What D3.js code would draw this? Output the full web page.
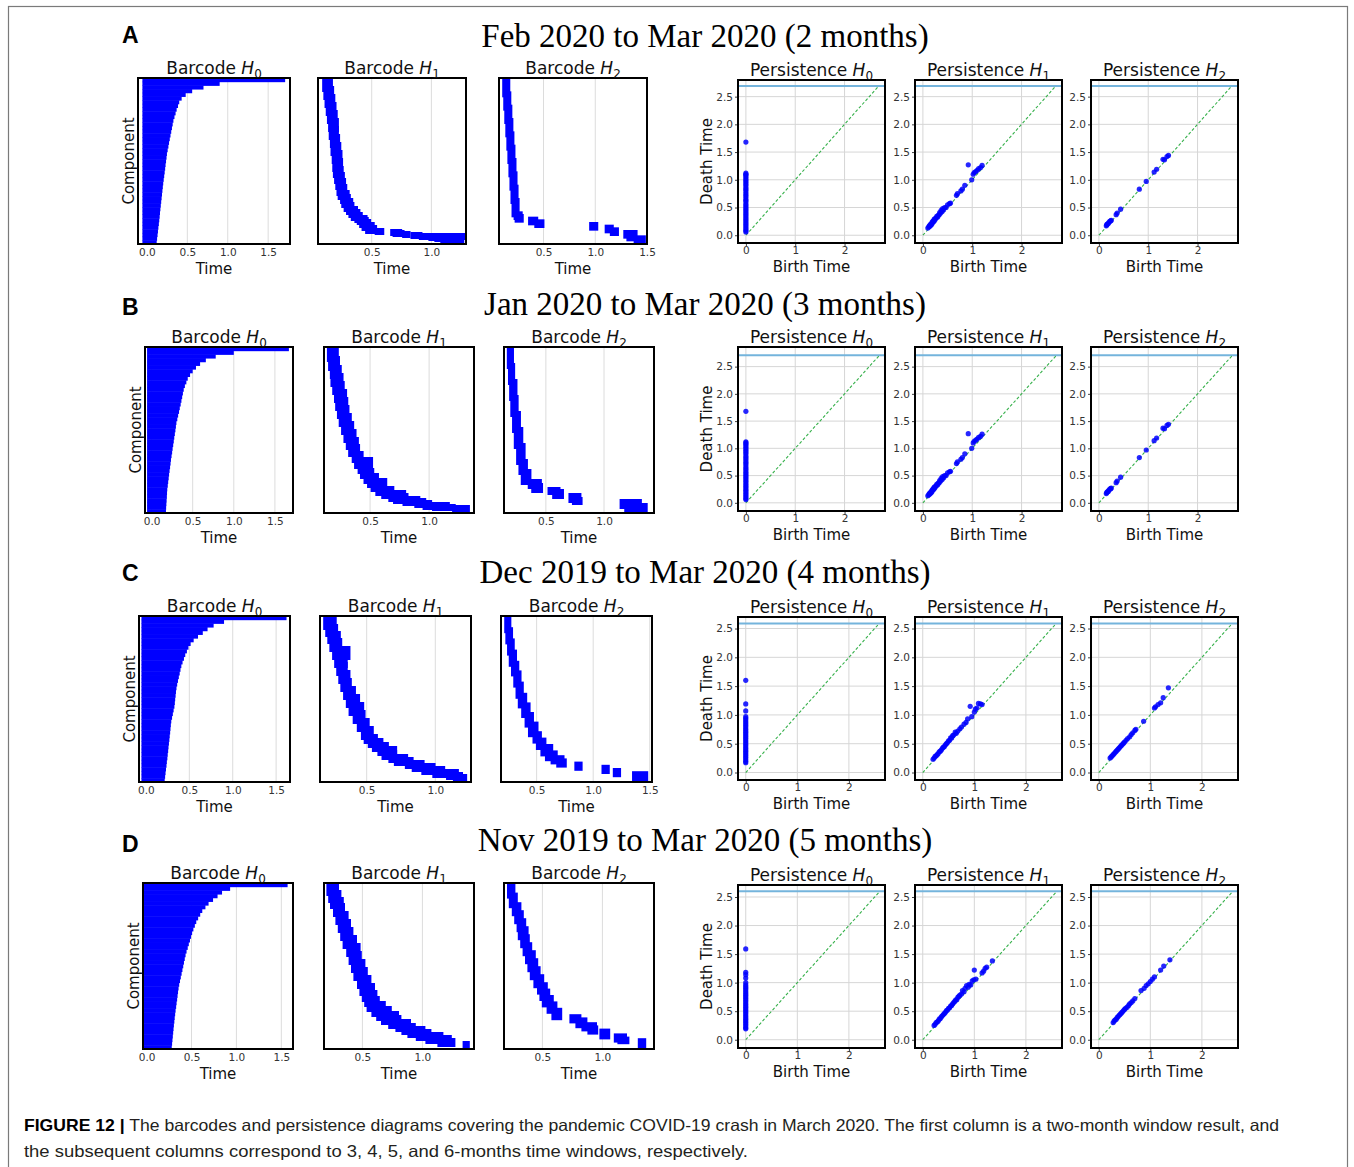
<!DOCTYPE html>
<html lang="en">
<head>
<meta charset="UTF-8">
<title>Figure 12</title>
<script src="https://d3js.org/d3.v7.min.js"></script>
<style>
  body { margin: 0; background: #fff; }
  svg text { font-family: "DejaVu Sans", sans-serif; }
</style>
</head>
<body>
<div id="fig"></div>
<script>
// ---------- text ----------
const rowLetters = ["A", "B", "C", "D"];
const rowTitles = [
  "Feb 2020 to Mar 2020 (2 months)",
  "Jan 2020 to Mar 2020 (3 months)",
  "Dec 2019 to Mar 2020 (4 months)",
  "Nov 2019 to Mar 2020 (5 months)"
];
const captionBold = "FIGURE 12 |";
const captionLine1 = " The barcodes and persistence diagrams covering the pandemic COVID-19 crash in March 2020. The first column is a two-month window result, and";
const captionLine2 = "the subsequent columns correspond to 3, 4, 5, and 6-months time windows, respectively.";

// ---------- barcode H0: death times, longest bar first (all born at 0) ----------
const barH0A = [1.71, 0.9, 0.7, 0.56, 0.48, 0.43, 0.4, 0.385, 0.368, 0.355, 0.341, 0.328, 0.319, 0.31, 0.301,
  0.292, 0.283, 0.274, 0.266, 0.257, 0.248, 0.243, 0.237, 0.231, 0.226, 0.22, 0.214, 0.208, 0.202, 0.197,
  0.192, 0.187, 0.182, 0.177, 0.172, 0.167, 0.162, 0.158, 0.153, 0.148, 0.142, 0.137, 0.132, 0.126, 0.121];
const barH0B = [1.67, 1.0, 0.78, 0.66, 0.59, 0.54, 0.5, 0.468, 0.44, 0.423, 0.405, 0.391, 0.381, 0.372, 0.363,
  0.354, 0.343, 0.334, 0.323, 0.313, 0.302, 0.296, 0.29, 0.283, 0.276, 0.27, 0.263, 0.256, 0.25, 0.243,
  0.236, 0.231, 0.225, 0.219, 0.213, 0.208, 0.202, 0.197, 0.191, 0.188, 0.186, 0.183, 0.18, 0.177, 0.175];
const barH0C = [1.62, 0.9, 0.78, 0.71, 0.655, 0.6, 0.55, 0.515, 0.49, 0.472, 0.453, 0.438, 0.422, 0.408, 0.398,
  0.389, 0.379, 0.369, 0.36, 0.352, 0.346, 0.342, 0.337, 0.333, 0.328, 0.319, 0.31, 0.301, 0.292, 0.287,
  0.283, 0.279, 0.274, 0.27, 0.265, 0.26, 0.256, 0.251, 0.247, 0.241, 0.237, 0.231, 0.226, 0.221, 0.216];
const barH0D = [1.57, 0.93, 0.84, 0.79, 0.74, 0.69, 0.655, 0.62, 0.597, 0.574, 0.553, 0.537, 0.521, 0.507, 0.495,
  0.483, 0.47, 0.458, 0.445, 0.434, 0.425, 0.416, 0.408, 0.399, 0.39, 0.381, 0.372, 0.363, 0.356, 0.35,
  0.345, 0.34, 0.334, 0.329, 0.323, 0.318, 0.313, 0.309, 0.304, 0.3, 0.296, 0.292, 0.288, 0.284, 0.28];

// ---------- barcode H1 / H2: [birth, death, number of bars] sorted by birth ----------
const barH1A = [[0.11,0.15,8],[0.12,0.16,8],[0.13,0.17,8],[0.14,0.18,8],[0.15,0.19,8],[0.16,0.2,8],
  [0.165,0.2,8],[0.175,0.21,8],[0.18,0.22,8],[0.19,0.23,8],[0.195,0.235,8],
  [0.2,0.24,6],[0.21,0.25,6],[0.22,0.26,6],[0.23,0.27,6],
  [0.24,0.29,4],[0.26,0.3,4],[0.27,0.32,4],[0.29,0.33,4],
  [0.31,0.36,3],[0.33,0.38,3],[0.35,0.4,3],[0.38,0.44,2],[0.4,0.45,2],
  [0.42,0.47,3],[0.44,0.5,3],[0.47,0.52,3],
  [0.55,0.58,1],[0.68,0.73,1],[0.7,0.75,1],[0.78,0.8,1],[0.85,0.9,1],[0.92,1.27,1],[1.0,1.04,1],[1.05,1.12,1],[1.1,1.16,1],[1.18,1.25,1]];
const barH2A = [[0.13,0.15,5],[0.14,0.16,5],[0.15,0.17,5],[0.16,0.18,5],[0.17,0.19,5],[0.18,0.2,5],[0.19,0.21,5],
  [0.2,0.22,5],[0.21,0.23,5],[0.22,0.24,5],[0.24,0.27,1],[0.25,0.28,1],
  [0.38,0.42,1],[0.44,0.48,1],[0.97,1.0,1],[1.12,1.15,1],[1.17,1.2,1],[1.3,1.38,1],[1.33,1.36,1],[1.4,1.46,1]];
const barH1B = [[0.16,0.21,9],[0.17,0.22,9],[0.185,0.235,8],
  [0.19,0.25,8],[0.205,0.26,8],[0.22,0.28,8],[0.23,0.29,8],
  [0.245,0.3,8],[0.26,0.32,8],[0.28,0.34,8],[0.3,0.36,8],
  [0.32,0.38,7],[0.34,0.39,7],[0.37,0.42,6],[0.39,0.5,6],
  [0.42,0.48,5],[0.44,0.51,5],[0.47,0.55,5],[0.5,0.62,4],
  [0.53,0.6,4],[0.57,0.68,4],[0.62,0.78,3],[0.68,0.8,3],
  [0.72,0.9,2],[0.8,0.95,2],[0.9,1.0,2],[0.97,1.15,2],[1.05,1.2,1],[1.22,1.32,2]];
const barH2B = [[0.19,0.2,8],[0.2,0.21,8],[0.21,0.23,8],[0.22,0.24,8],[0.235,0.26,8],[0.25,0.28,8],[0.27,0.3,8],
  [0.29,0.32,5],[0.31,0.35,5],[0.37,0.44,2],[0.4,0.45,2],[0.54,0.6,1],[0.58,0.63,2],
  [0.72,0.78,2],[0.75,0.79,1],[1.16,1.3,2],[1.2,1.35,2]];
const barH1C = [[0.205,0.26,8],[0.22,0.27,7],[0.235,0.29,7],
  [0.25,0.3,8],[0.27,0.36,8],[0.285,0.34,8],[0.3,0.34,8],
  [0.315,0.36,8],[0.33,0.37,8],[0.35,0.4,8],[0.37,0.43,8],
  [0.39,0.46,8],[0.42,0.47,8],[0.45,0.5,8],[0.48,0.53,8],
  [0.5,0.56,4],[0.53,0.6,4],[0.56,0.64,4],[0.6,0.7,4],
  [0.63,0.7,4],[0.68,0.78,3],[0.72,0.82,3],[0.8,0.9,3],
  [0.85,0.98,3],[0.92,1.05,3],[1.0,1.15,3],[1.1,1.18,2],[1.15,1.21,2]];
const barH2C = [[0.24,0.25,7],[0.25,0.265,7],[0.265,0.28,7],[0.28,0.3,7],[0.3,0.32,6],
  [0.32,0.34,7],[0.34,0.36,7],[0.36,0.39,6],[0.39,0.42,6],[0.42,0.45,6],[0.45,0.49,6],
  [0.49,0.52,4],[0.52,0.56,4],[0.56,0.62,4],[0.6,0.66,3],[0.65,0.72,2],[0.7,0.74,2],
  [0.86,0.88,2],[1.1,1.12,2],[1.2,1.22,2],[1.37,1.46,3]];
const barH1D = [[0.225,0.28,7],[0.24,0.3,7],[0.255,0.32,6],
  [0.28,0.33,8],[0.3,0.36,8],[0.32,0.38,8],[0.34,0.4,8],
  [0.36,0.43,8],[0.39,0.46,8],[0.41,0.47,8],[0.43,0.5,8],
  [0.45,0.52,8],[0.48,0.55,8],[0.5,0.58,7],[0.52,0.6,6],
  [0.54,0.62,5],[0.56,0.67,5],[0.6,0.72,5],[0.64,0.78,4],
  [0.68,0.8,4],[0.74,0.88,4],[0.8,0.92,3],[0.85,1.0,3],
  [0.9,1.05,3],[0.97,1.15,3],[1.05,1.22,3],[1.15,1.25,3],[1.36,1.37,2]];
const barH2D = [[0.23,0.25,6],[0.245,0.27,6],[0.27,0.3,5],[0.29,0.32,5],[0.31,0.34,5],[0.32,0.36,5],
  [0.34,0.37,5],[0.36,0.39,5],[0.38,0.42,5],[0.4,0.44,5],[0.42,0.46,5],[0.45,0.49,5],[0.48,0.52,4],[0.5,0.54,4],
  [0.52,0.57,4],[0.56,0.6,4],[0.6,0.64,4],[0.75,0.8,2],[0.8,0.85,3],[0.85,0.93,2],[0.9,0.94,2],
  [1.0,1.04,3],[1.12,1.18,2],[1.15,1.2,1],[1.32,1.34,3]];

// ---------- persistence diagrams (rows A and B show the same diagram) ----------
const pdH0AB = [1.68, 1.12, 1.1, 1.08, 1.05, 1.02, 0.99, 0.96, 0.93, 0.9, 0.86, 0.83, 0.8, 0.76, 0.73, 0.7, 0.66,
  0.63, 0.6, 0.56, 0.53, 0.5, 0.47, 0.44, 0.41, 0.38, 0.35, 0.32, 0.29, 0.26, 0.23, 0.2, 0.17, 0.14, 0.11, 0.08, 0.06];
const pdH1AB = [[0.1,0.13],[0.12,0.15],[0.13,0.17],[0.14,0.16],[0.15,0.19],[0.16,0.18],[0.17,0.21],[0.18,0.2],
  [0.19,0.24],[0.2,0.23],[0.21,0.26],[0.22,0.25],[0.23,0.29],[0.24,0.27],[0.25,0.3],[0.27,0.31],[0.28,0.34],
  [0.3,0.33],[0.31,0.36],[0.33,0.37],[0.34,0.41],[0.36,0.4],[0.37,0.45],[0.39,0.43],[0.4,0.48],[0.42,0.46],
  [0.44,0.5],[0.47,0.5],[0.5,0.55],[0.54,0.57],[0.56,0.58],[0.68,0.72],[0.7,0.75],[0.77,0.8],[0.8,0.83],
  [0.85,0.9],[0.92,1.27],[0.99,1.0],[1.02,1.1],[1.04,1.13],[1.07,1.15],[1.1,1.17],[1.13,1.2],[1.17,1.22],[1.2,1.26]];
const pdH2AB = [[0.15,0.17],[0.16,0.19],[0.17,0.2],[0.19,0.21],[0.2,0.23],[0.22,0.25],[0.24,0.26],[0.25,0.27],
  [0.35,0.37],[0.37,0.4],[0.44,0.47],[0.82,0.83],[0.96,0.97],[1.12,1.14],[1.17,1.19],[1.3,1.37],[1.33,1.36],
  [1.38,1.42],[1.41,1.44]];
const pdH0C = [1.6, 1.19, 1.07, 0.97, 0.94, 0.91, 0.88, 0.85, 0.82, 0.79, 0.76, 0.73, 0.7, 0.67, 0.64, 0.61, 0.58,
  0.55, 0.52, 0.49, 0.46, 0.43, 0.4, 0.37, 0.34, 0.31, 0.28, 0.25, 0.22, 0.19, 0.17];
const pdH1C = [[0.2,0.23],[0.22,0.25],[0.24,0.28],[0.26,0.29],[0.28,0.31],[0.3,0.33],[0.32,0.36],[0.34,0.37],
  [0.36,0.39],[0.38,0.42],[0.4,0.44],[0.42,0.45],[0.44,0.48],[0.46,0.5],[0.48,0.52],[0.5,0.55],[0.52,0.56],
  [0.54,0.6],[0.56,0.6],[0.58,0.64],[0.6,0.65],[0.63,0.7],[0.65,0.68],[0.68,0.72],[0.72,0.76],[0.75,0.79],
  [0.8,0.84],[0.84,0.87],[0.87,0.93],[0.92,1.15],[0.95,0.97],[1.0,1.05],[1.02,1.1],[1.05,1.12],[1.08,1.2],
  [1.12,1.19],[1.15,1.18]];
const pdH2C = [[0.22,0.25],[0.24,0.27],[0.26,0.29],[0.28,0.31],[0.3,0.33],[0.32,0.35],[0.34,0.37],[0.36,0.39],
  [0.38,0.41],[0.4,0.43],[0.42,0.45],[0.44,0.47],[0.46,0.49],[0.48,0.51],[0.5,0.53],[0.53,0.56],[0.56,0.59],
  [0.6,0.62],[0.63,0.66],[0.66,0.69],[0.7,0.73],[0.72,0.75],[0.87,0.89],[1.08,1.12],[1.1,1.14],[1.15,1.18],
  [1.2,1.21],[1.25,1.3],[1.35,1.47]];
const pdH0D = [1.59, 1.18, 1.14, 1.08, 1.0, 0.96, 0.93, 0.9, 0.87, 0.84, 0.81, 0.78, 0.75, 0.72, 0.69, 0.66, 0.63,
  0.6, 0.57, 0.54, 0.51, 0.48, 0.45, 0.42, 0.39, 0.36, 0.33, 0.3, 0.27, 0.24, 0.21, 0.19];
const pdH1D = [[0.22,0.25],[0.24,0.27],[0.26,0.3],[0.28,0.31],[0.3,0.33],[0.32,0.36],[0.34,0.37],[0.36,0.4],
  [0.38,0.42],[0.4,0.44],[0.42,0.46],[0.44,0.48],[0.46,0.51],[0.48,0.52],[0.5,0.55],[0.52,0.56],[0.54,0.59],
  [0.56,0.6],[0.58,0.63],[0.6,0.65],[0.62,0.67],[0.64,0.7],[0.66,0.7],[0.68,0.74],[0.7,0.76],[0.72,0.78],
  [0.75,0.8],[0.77,0.86],[0.8,0.84],[0.82,0.9],[0.85,0.95],[0.88,0.92],[0.9,0.97],[0.93,0.96],[0.96,1.03],
  [0.99,1.05],[1.0,1.22],[1.03,1.06],[1.15,1.17],[1.18,1.2],[1.21,1.25],[1.24,1.27],[1.35,1.38]];
const pdH2D = [[0.28,0.3],[0.3,0.33],[0.32,0.35],[0.34,0.36],[0.36,0.39],[0.38,0.41],[0.4,0.43],[0.42,0.45],
  [0.44,0.47],[0.46,0.49],[0.48,0.51],[0.5,0.53],[0.52,0.55],[0.55,0.57],[0.58,0.6],[0.6,0.63],[0.63,0.65],
  [0.66,0.68],[0.7,0.72],[0.82,0.86],[0.88,0.9],[0.92,0.95],[0.96,0.98],[1.0,1.02],[1.04,1.06],[1.08,1.1],
  [1.2,1.22],[1.26,1.29],[1.38,1.4]];

// ---------- axis limits and ticks ----------
const barXLim = [
  [[-0.11, 1.77], [0.05, 1.29], [0.07, 1.5]],
  [[-0.08, 1.72], [0.11, 1.38], [0.14, 1.43]],
  [[-0.08, 1.66], [0.16, 1.26], [0.185, 1.52]],
  [[-0.04, 1.63], [0.18, 1.43], [0.18, 1.43]]
];
const pdXLim = [[-0.16, 2.82], [-0.16, 2.82], [-0.15, 2.70], [-0.15, 2.70]];
const pdYLim = [[-0.14, 2.80], [-0.15, 2.86], [-0.13, 2.70], [-0.145, 2.71]];
const pdInf = [2.69, 2.71, 2.585, 2.6];
const barTicks = [0, 0.5, 1, 1.5, 2];
const pdXTicks = [0, 1, 2];
const pdYTicks = [0, 0.5, 1, 1.5, 2, 2.5];

const barData = [[barH0A, barH1A, barH2A], [barH0B, barH1B, barH2B], [barH0C, barH1C, barH2C], [barH0D, barH1D, barH2D]];
const pdData = [[pdH0AB, pdH1AB, pdH2AB], [pdH0AB, pdH1AB, pdH2AB], [pdH0C, pdH1C, pdH2C], [pdH0D, pdH1D, pdH2D]];

// ---------- layout ----------
const rowTop = [78, 347, 616, 883];
const barHgt = 166;
const barX = [[138, 318, 499], [145, 324, 504], [139, 320, 501], [143, 324, 504]];
const barW = [[152, 148, 148], [148, 150, 150], [151, 151, 151], [150, 150, 150]];
const pdTop = [80, 347, 617, 885];
const pdHgt = [163, 164, 163, 163];
const pdX = [738, 915, 1091];
const pdW = 147;
const letterBase = [43, 315, 581, 852];
const titleBase = [47, 315, 583, 851];

const blue = "#0000ff";

const svg = d3.select("#fig").append("svg")
    .attr("width", 1354).attr("height", 1167)
    .style("display", "block");

svg.append("rect").attr("width", 1354).attr("height", 1167).attr("fill", "#fff");
// outer figure border
svg.append("rect")
    .attr("x", 8.5).attr("y", 6.5).attr("width", 1339).attr("height", 1200)
    .attr("fill", "none").attr("stroke", "#7a7a7a").attr("stroke-width", 1.2);

let clipCount = 0;
function makePanel(x, y, w, h) {
  const g = svg.append("g").attr("transform", `translate(${x},${y})`);
  const id = "clip" + (clipCount++);
  g.append("clipPath").attr("id", id).append("rect").attr("width", w).attr("height", h);
  const plot = g.append("g").attr("clip-path", `url(#${id})`);
  return { g, plot };
}

function addTitle(g, w, word, k) {
  const t = g.append("text")
      .attr("x", w / 2).attr("y", -4)
      .attr("text-anchor", "middle")
      .attr("fill", "#111")
      .style("font-size", "17px");
  t.append("tspan").text(word + " ");
  t.append("tspan").style("font-style", "italic").text("H");
  t.append("tspan").attr("dy", 4).style("font-size", "12px").text(k);
}

function styleAxis(ax) {
  ax.select(".domain").remove();
  ax.selectAll(".tick line").attr("stroke", "#444").attr("stroke-width", 1);
  ax.selectAll(".tick text")
      .attr("fill", "#333")
      .style("font-size", "10.5px")
      .style("font-family", "DejaVu Sans, sans-serif");
}

function addFrame(g, w, h) {
  g.append("rect").attr("width", w).attr("height", h)
      .attr("fill", "none").attr("stroke", "#000").attr("stroke-width", 2);
}

function drawBarcode(px, py, w, h, lim, bars, k) {
  const { g, plot } = makePanel(px, py, w, h);
  const x = d3.scaleLinear().domain(lim).range([0, w]);
  const ticks = barTicks.filter(t => t >= lim[0] - 1e-6 && t <= lim[1] + 1e-6);

  plot.selectAll("line.grid").data(ticks).join("line")
      .attr("class", "grid")
      .attr("x1", d => x(d)).attr("x2", d => x(d))
      .attr("y1", 0).attr("y2", h)
      .attr("stroke", "#dcdcdc").attr("stroke-width", 1);

  if (k === 0) {
    const y = d3.scaleBand().domain(d3.range(bars.length)).range([0, h]);
    plot.selectAll("rect.bar").data(bars).join("rect")
        .attr("class", "bar")
        .attr("x", x(0) - 4.5)
        .attr("width", d => x(d) - x(0) + 4.5)
        .attr("y", (d, i) => y(i))
        .attr("height", y.bandwidth() + 0.5)
        .attr("fill", blue);
  } else {
    let cum = 0;
    const rows = bars.map(([b, d, c]) => { const r = { b, d, s: cum, c }; cum += c; return r; });
    const y = d3.scaleLinear().domain([0, cum]).range([3, h - 3]);
    plot.selectAll("rect.bar").data(rows).join("rect")
        .attr("class", "bar")
        .attr("x", r => x(r.b) - 3)
        .attr("width", r => Math.max(x(r.d) - x(r.b), 0) + 6)
        .attr("y", r => y(r.s) - 3)
        .attr("height", r => y(r.s + r.c) - y(r.s) + 6)
        .attr("fill", blue);
  }

  const ax = g.append("g")
      .attr("transform", `translate(0,${h})`)
      .call(d3.axisBottom(x).tickValues(ticks).tickFormat(d3.format(".1f")).tickSize(0).tickPadding(4.2));
  styleAxis(ax);
  addFrame(g, w, h);
  addTitle(g, w, "Barcode", k);

  g.append("text").attr("x", w / 2).attr("y", h + 29.5)
      .attr("text-anchor", "middle").attr("fill", "#111")
      .style("font-size", "15px").text("Time");
  if (k === 0) {
    g.append("text")
        .attr("transform", `translate(-4,${h / 2}) rotate(-90)`)
        .attr("text-anchor", "middle").attr("fill", "#111")
        .style("font-size", "15px").text("Component");
  }
}

function drawDiagram(px, py, w, h, xl, yl, inf, pts, k) {
  const { g, plot } = makePanel(px, py, w, h);
  const x = d3.scaleLinear().domain(xl).range([0, w]);
  const y = d3.scaleLinear().domain(yl).range([h, 0]);

  plot.selectAll("line.gx").data(pdXTicks).join("line")
      .attr("class", "gx")
      .attr("x1", d => x(d)).attr("x2", d => x(d)).attr("y1", 0).attr("y2", h)
      .attr("stroke", "#d6d6d6").attr("stroke-width", 1);
  plot.selectAll("line.gy").data(pdYTicks).join("line")
      .attr("class", "gy")
      .attr("y1", d => y(d)).attr("y2", d => y(d)).attr("x1", 0).attr("x2", w)
      .attr("stroke", "#d6d6d6").attr("stroke-width", 1);

  // infinity line
  plot.append("line")
      .attr("x1", 0).attr("x2", w).attr("y1", y(inf)).attr("y2", y(inf))
      .attr("stroke", "#74b4dc").attr("stroke-width", 2);
  // diagonal
  plot.append("line")
      .attr("x1", x(0)).attr("y1", y(0)).attr("x2", x(inf)).attr("y2", y(inf))
      .attr("stroke", "#35b04a").attr("stroke-width", 1.1).attr("stroke-dasharray", "3,2");

  const pairs = k === 0 ? pts.map(d => [0, d]) : pts;
  plot.selectAll("circle").data(pairs).join("circle")
      .attr("cx", d => x(d[0])).attr("cy", d => y(d[1]))
      .attr("r", 2.6)
      .attr("fill", blue).attr("fill-opacity", 0.85);

  const ax = g.append("g")
      .attr("transform", `translate(0,${h})`)
      .call(d3.axisBottom(x).tickValues(pdXTicks).tickFormat(d3.format("d")).tickSize(3).tickPadding(0.8));
  styleAxis(ax);
  const ay = g.append("g")
      .call(d3.axisLeft(y).tickValues(pdYTicks).tickFormat(d3.format(".1f")).tickSize(3).tickPadding(2));
  styleAxis(ay);
  addFrame(g, w, h);
  addTitle(g, w, "Persistence", k);

  g.append("text").attr("x", w / 2).attr("y", h + 28.5)
      .attr("text-anchor", "middle").attr("fill", "#111")
      .style("font-size", "15px").text("Birth Time");
  if (k === 0) {
    g.append("text")
        .attr("transform", `translate(-26,${h / 2}) rotate(-90)`)
        .attr("text-anchor", "middle").attr("fill", "#111")
        .style("font-size", "15px").text("Death Time");
  }
}

rowLetters.forEach((letter, r) => {
  svg.append("text")
      .attr("x", 122).attr("y", letterBase[r])
      .style("font-family", "'Liberation Sans', Arial, sans-serif")
      .style("font-weight", "bold").style("font-size", "23px")
      .attr("fill", "#000")
      .text(letter);
  svg.append("text")
      .attr("x", 705).attr("y", titleBase[r])
      .attr("text-anchor", "middle")
      .style("font-family", "'Liberation Serif', 'Times New Roman', serif")
      .style("font-size", "33px")
      .attr("fill", "#000")
      .text(rowTitles[r]);

  for (let k = 0; k < 3; k++) {
    drawBarcode(barX[r][k], rowTop[r], barW[r][k], barHgt, barXLim[r][k], barData[r][k], k);
    drawDiagram(pdX[k], pdTop[r], pdW, pdHgt[r], pdXLim[r], pdYLim[r], pdInf[r], pdData[r][k], k);
  }
});

// caption
const capFont = "'Liberation Sans Narrow', 'Liberation Sans', Arial, sans-serif";
const cap1 = svg.append("text")
    .attr("x", 24).attr("y", 1131)
    .attr("textLength", 1255).attr("lengthAdjust", "spacingAndGlyphs")
    .style("font-family", capFont).style("font-size", "16.5px")
    .attr("fill", "#231f20");
cap1.append("tspan").style("font-weight", "bold").attr("fill", "#000").text(captionBold);
cap1.append("tspan").text(captionLine1);
svg.append("text")
    .attr("x", 24).attr("y", 1157)
    .attr("textLength", 724).attr("lengthAdjust", "spacingAndGlyphs")
    .style("font-family", capFont).style("font-size", "16.5px")
    .attr("fill", "#231f20")
    .text(captionLine2);
</script>
</body>
</html>
